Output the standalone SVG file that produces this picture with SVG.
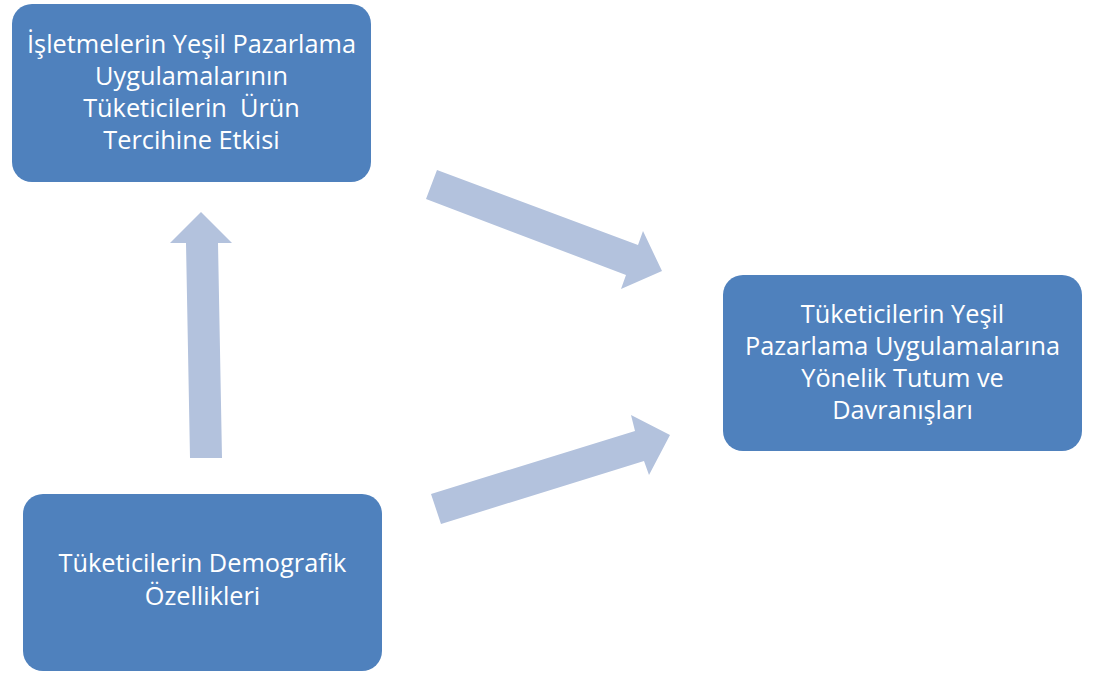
<svg xmlns="http://www.w3.org/2000/svg" width="1096" height="673" viewBox="0 0 1096 673">
<style>
.box{fill:#4F81BD;}
.arrow{fill:#B3C2DD;}
.t{font-family:"Open Sans","Liberation Sans",Arial,sans-serif;font-size:25.3px;fill:#FFFFFF;text-anchor:middle;white-space:pre;}
</style>
<rect width="1096" height="673" fill="#FFFFFF"/>
<g id="connectors">
<polygon class="arrow" points="201,212 232,243 218,243 222,458 190,458 186,243 170,243"/>
<polygon class="arrow" points="437,170 638,245 643,231 662,271 621,289 626,275 426,199"/>
<polygon class="arrow" points="431,494 635,431 631,415 670,435 649,475 644,461 441,524"/>
</g>
<g id="node1">
<rect class="box" x="12" y="4" width="359" height="178" rx="20"/>
<text class="t" x="191.5" y="53">İşletmelerin Yeşil Pazarlama</text>
<text class="t" x="191.5" y="85">Uygulamalarının</text>
<text class="t" x="191.5" y="117" xml:space="preserve">Tüketicilerin  Ürün</text>
<text class="t" x="191.5" y="149">Tercihine Etkisi</text>
</g>
<g id="node2">
<rect class="box" x="723" y="275" width="359" height="176" rx="20"/>
<text class="t" x="902.5" y="323">Tüketicilerin Yeşil</text>
<text class="t" x="902.5" y="355">Pazarlama Uygulamalarına</text>
<text class="t" x="902.5" y="387">Yönelik Tutum ve</text>
<text class="t" x="902.5" y="419">Davranışları</text>
</g>
<g id="node3">
<rect class="box" x="23" y="494" width="359" height="177" rx="20"/>
<text class="t" x="202.5" y="572">Tüketicilerin Demografik</text>
<text class="t" x="202.5" y="605">Özellikleri</text>
</g>
</svg>
